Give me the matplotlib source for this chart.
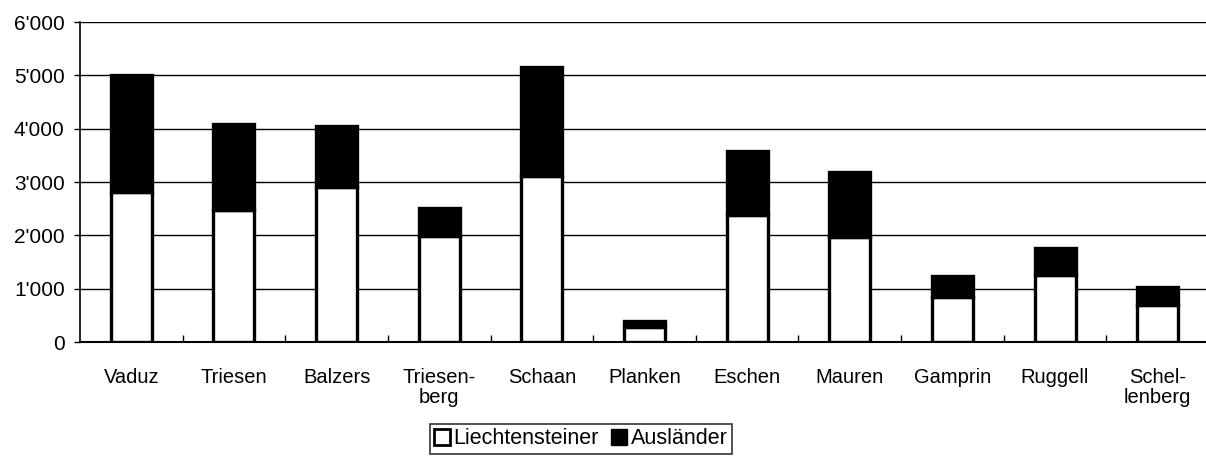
import numpy as np
import matplotlib
matplotlib.use('Agg')
import matplotlib.pyplot as plt
from matplotlib.lines import Line2D
from matplotlib.ticker import FuncFormatter

plt.rcParams['font.family'] = ['Liberation Sans', 'DejaVu Sans']

gemeinden = ['Vaduz', 'Triesen', 'Balzers', 'Triesen-\nberg', 'Schaan', 'Planken',
             'Eschen', 'Mauren', 'Gamprin', 'Ruggell', 'Schel-\nlenberg']
liechtensteiner = [2810, 2470, 2900, 1990, 3110, 290, 2380, 1970, 850, 1250, 690]
auslaender = [2190, 1610, 1150, 520, 2040, 100, 1200, 1210, 390, 510, 340]

W, H = 1206, 459
fig = plt.figure(figsize=(W / 100, H / 100), dpi=100)
ax = fig.add_axes([80 / W, 1 - 342 / H, 1129 / W, 320 / H])

x = np.arange(len(gemeinden))
bar_w = 0.40
ax.bar(x, liechtensteiner, bar_w, color='white', edgecolor='black', linewidth=2.4, zorder=3)
ax.bar(x, auslaender, bar_w, bottom=liechtensteiner, color='black', edgecolor='black',
       linewidth=2.4, zorder=3)

ax.set_xlim(-0.5, len(gemeinden) - 0.5)
ax.set_ylim(0, 6000)
ax.set_yticks(np.arange(0, 6001, 1000))
ax.yaxis.set_major_formatter(FuncFormatter(lambda v, p: '0' if v == 0 else "{}'{:03d}".format(int(v) // 1000, int(v) % 1000)))
ax.grid(axis='y', color='black', linewidth=1, zorder=1)

ax.set_xticks(x)
ax.set_xticklabels(gemeinden, fontsize=14.5, linespacing=1.05)
ax.set_xticks(np.arange(0.5, len(gemeinden) - 0.5, 1), minor=True)
ax.tick_params(axis='x', which='major', length=0, pad=19)
ax.tick_params(axis='x', which='minor', direction='in', length=5, width=1)
ax.tick_params(axis='y', direction='out', length=4, width=1, labelsize=15, pad=7)

for s in ['top', 'right']:
    ax.spines[s].set_visible(False)
ax.spines['left'].set_linewidth(1.2)
ax.spines['bottom'].set_linewidth(1.5)

handles = [Line2D([], [], marker='s', linestyle='', markersize=11, markerfacecolor='white',
                  markeredgecolor='black', markeredgewidth=2),
           Line2D([], [], marker='s', linestyle='', markersize=11, markerfacecolor='black',
                  markeredgecolor='black')]
leg = fig.legend(handles, ['Liechtensteiner', 'Ausländer'], loc='upper center',
                 bbox_to_anchor=(581 / W, 1 - 424 / H), ncol=2, fontsize=15.5,
                 frameon=True, fancybox=False, edgecolor='black', handlelength=0.7,
                 handletextpad=0.2, columnspacing=0.6, borderpad=0.2, borderaxespad=0)
leg.get_frame().set_linewidth(1.2)

fig.savefig('out.png', dpi=100, facecolor='white')
